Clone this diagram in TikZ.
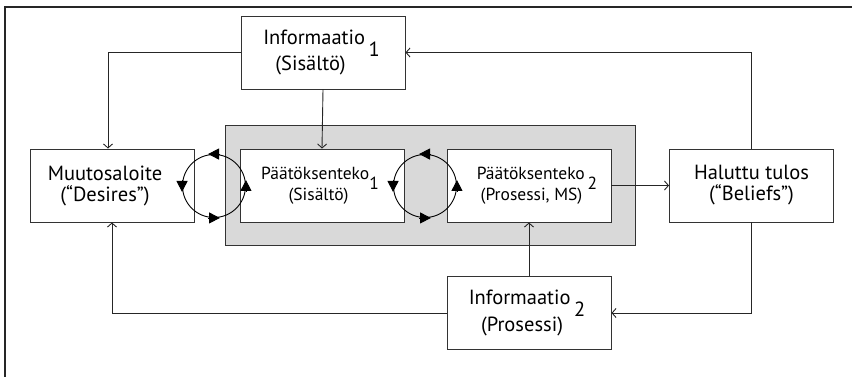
\documentclass[tikz,border=0pt]{standalone}
\usepackage{fontspec}
\setmainfont{PT Sans}
\usetikzlibrary{arrows.meta,shadows}

\newcommand\bigtxt{\fontsize{20.5}{21}\selectfont}
\newcommand\smalltxt{\fontsize{17.5}{21}\selectfont}
% index set below the baseline, without changing the line spacing
\newcommand\lowidx[1]{\smash{\raisebox{-0.6em}{#1}}}

\begin{document}
\begin{tikzpicture}[x=1pt,y=-1pt,
  box/.style={draw=black!80, line width=0.9pt, fill=white,
    minimum width=164pt, minimum height=73pt, inner sep=0pt,
    align=center, font=\bigtxt,
    drop shadow={shadow xshift=0.8pt, shadow yshift=-0.9pt, fill=black!50, opacity=1}},
  smallbox/.style={box, font=\smalltxt},
  panel/.style={draw=black!80, line width=0.9pt, fill=black!15,
    minimum width=410pt, minimum height=120pt, inner sep=0pt,
    drop shadow={shadow xshift=0.8pt, shadow yshift=-0.9pt, fill=black!50, opacity=1}},
  frame/.style={draw=black!85, line width=1.4pt},
  conn/.style={draw=black!85, line width=0.9pt, -{Straight Barb[length=4pt,width=9pt,line width=0.9pt]}},
  loop/.style={circle, draw=black, line width=0.9pt, minimum size=63pt, inner sep=0pt},
  looptip/.style={draw=black, line width=0.9pt, -{Triangle[length=11pt,width=11pt]}}
]
\useasboundingbox (0,0) rectangle (852,377);

% open frame along the top and the left side
\draw[frame] (852,7) -- (5,7) -- (5,377);

% shaded panel holding the two decision boxes
\node[panel] (panel) at (430,185) {};

% boxes
\node[box] (info1) at (323,52.5)
  {Informaatio\,\lowidx{1}\hspace*{3pt}\\[5pt](Sisältö)\hspace*{25pt}};
\node[box] (muutos) at (112,185.5)
  {Muutosaloite\hspace*{14pt}\\(“Desires”)\hspace*{14pt}};
\node[smallbox] (p1) at (322,185.5)
  {Päätöksenteko\lowidx{1}\hspace*{4pt}\\(Sisältö)\hspace*{7pt}};
\node[smallbox] (p2) at (529,185.5)
  {\hspace*{16pt}Päätöksenteko\,\lowidx{2}\\\hspace*{5pt}(Prosessi, MS)};
\node[box] (haluttu) at (751.5,185.5)
  {Haluttu tulos\\(“Beliefs”)};
\node[box] (info2) at (529,313)
  {Informaatio\,\lowidx{2}\hspace*{4pt}\\[6pt](Prosessi)\hspace*{14pt}};

% connectors
\draw[conn] (info1.west) -| ([xshift=-4pt]muutos.north);
\draw[conn] (info1.south) -- (p1.north);
\draw[conn] (haluttu.north) |- (info1.east);
\draw[conn] (p2.east) -- (haluttu.west);
\draw[conn] (haluttu.south) |- (info2.east);
\draw[conn] (info2.north) -- (p2.south);
\draw[conn] (info2.west) -| (muutos.south);

% feedback loops between the boxes
\foreach \c/\x in {c1/214, c2/425} {
  \node[loop] (\c) at (\x,186) {};
  \draw[looptip] ([xshift=6pt]\c.north) -- ([xshift=-6pt]\c.north);
  \draw[looptip] ([yshift=6pt]\c.west) -- ([yshift=-6pt]\c.west);
  \draw[looptip] ([xshift=-6pt]\c.south) -- ([xshift=6pt]\c.south);
  \draw[looptip] ([yshift=-6pt]\c.east) -- ([yshift=6pt]\c.east);
}
\end{tikzpicture}
\end{document}
